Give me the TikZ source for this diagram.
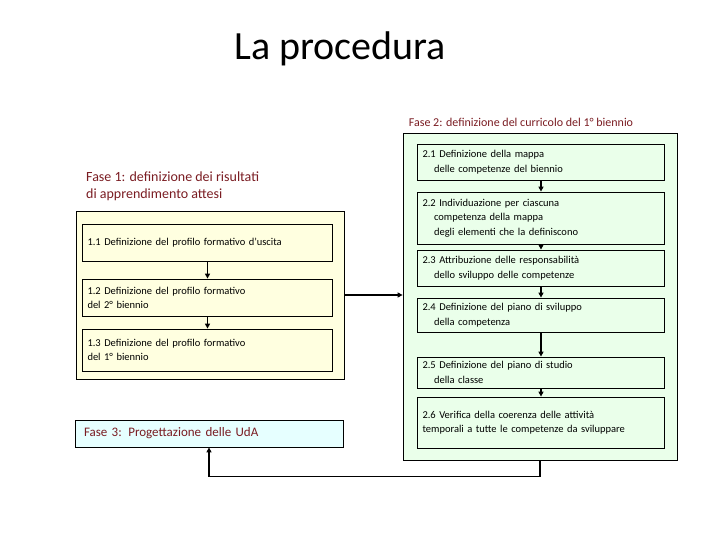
\documentclass[tikz,border=0pt]{standalone}
\usepackage{fontspec}
\setmainfont{Carlito}
\usetikzlibrary{arrows.meta,positioning}

\definecolor{paleyellow}{RGB}{255,255,224}
\definecolor{palegreen}{RGB}{234,255,234}
\definecolor{paleblue}{RGB}{230,255,255}
\definecolor{phasered}{RGB}{122,28,34}

\tikzset{
  phasebox/.style={draw, line width=0.8pt, inner sep=0pt},
  stepY/.style={draw, fill=paleyellow, line width=0.8pt, text width=240pt,
    inner xsep=5pt, align=left, font=\fontsize{10.5}{14}\selectfont},
  stepG/.style={stepY, fill=palegreen, text width=237pt, font=\fontsize{10.5}{14.5}\selectfont},
  phaselbl/.style={text=phasered, align=left, inner sep=0pt},
  flow/.style={line width=1.4pt, -{Triangle[length=5pt,width=5pt]}}
}
\newcommand{\ind}{\hspace*{1.1em}}

\begin{document}
\begin{tikzpicture}[x=1pt,y=-1pt]
  \useasboundingbox (0,0) rectangle (720,540);
  \node (title) at (340,49) {\fontsize{40}{48}\selectfont La procedura};

  % Fase 1
  \node [phaselbl, anchor=north west, font=\fontsize{14}{17}\selectfont] (f1lbl) at (86,172)
    {Fase 1: definizione dei risultati\\di apprendimento attesi};
  \node [phasebox, fill=paleyellow, minimum width=268pt, minimum height=168pt] (f1box) at (210,295) {};
  \node [stepY, minimum height=37pt] (s11) at (207.5,242.5) {1.1 Definizione del profilo formativo d’uscita};
  \node [stepY, minimum height=37pt] (s12) at (207.5,297.5) {1.2 Definizione del profilo formativo\\del 2° biennio};
  \node [stepY, minimum height=42pt] (s13) at (207.5,350) {1.3 Definizione del profilo formativo\\del 1° biennio\\[4pt]};

  % Fase 2
  \node [phaselbl, font=\fontsize{12}{14}\selectfont] (f2lbl) at (521,122)
    {Fase 2: definizione del curricolo del 1° biennio};
  \node [phasebox, fill=palegreen, minimum width=274pt, minimum height=327pt] (f2box) at (540,296.5) {};
  \node [stepG, minimum height=36pt] (s21) at (541,162) {2.1 Definizione della mappa\\\ind delle competenze del biennio};
  \node [stepG, minimum height=52pt] (s22) at (541,218) {2.2 Individuazione per ciascuna\\\ind competenza della mappa\\\ind degli elementi che la definiscono};
  \node [stepG, minimum height=36pt] (s23) at (541,268) {2.3 Attribuzione delle responsabilità\\\ind dello sviluppo delle competenze};
  \node [stepG, minimum height=34pt] (s24) at (541,315) {2.4 Definizione del piano di sviluppo\\\ind della competenza};
  \node [stepG, minimum height=31pt] (s25) at (541,372.5) {2.5 Definizione del piano di studio\\\ind della classe};
  \node [stepG, minimum height=51pt] (s26) at (541,422.5) {2.6 Verifica della coerenza delle attività\\temporali a tutte le competenze da sviluppare};

  % Fase 3
  \node [phasebox, fill=paleblue, minimum width=268pt, minimum height=27pt, text width=258pt,
    align=left, text=phasered, font=\fontsize{13}{15}\selectfont] (f3) at (209,433.5)
    {\hspace*{4pt}Fase 3: Progettazione delle UdA};

  \draw [flow] (s11) -- (s12);
  \draw [flow] (s12) -- (s13);
  \draw [flow] (s21) -- (s22);
  \draw [flow] (s22) -- (s23);
  \draw [flow] (s23) -- (s24);
  \draw [flow] (s24) -- (s25);
  \draw [flow] (s25) -- (s26);
  \draw [flow] (f1box.east) -- (f1box.east -| f2box.west);
  \draw [flow] (f2box.south) -- ++(0,16) -| (f3.south);
\end{tikzpicture}
\end{document}
